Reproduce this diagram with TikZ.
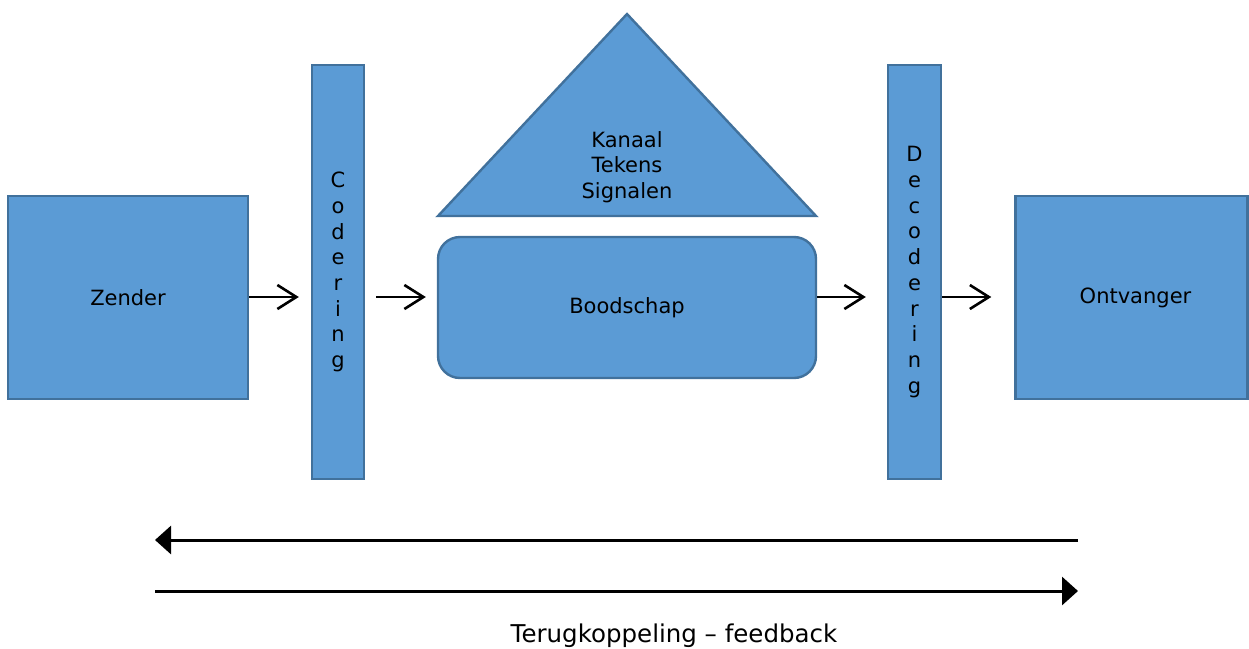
\documentclass[tikz,border=0pt]{standalone}
\usepackage{fontspec}
\setmainfont{DejaVu Sans}
\usetikzlibrary{arrows.meta}
\definecolor{boxfill}{HTML}{5B9BD5}
\definecolor{boxline}{HTML}{41719C}
\begin{document}
\begin{tikzpicture}[x=1pt,y=-1pt,
  blk/.style={draw=boxline,fill=boxfill,line width=2.4pt,inner sep=0pt,
    font=\fontsize{21}{25.7}\selectfont,align=center},
  flow/.style={line width=2.6pt,-{Straight Barb[length=19pt,width=24pt,line width=2.6pt]}},
  fb/.style={line width=3pt,-{Triangle[length=16pt,width=28pt]}},
  lbl/.style={font=\fontsize{21}{25.7}\selectfont,align=center,inner sep=0pt}]
\useasboundingbox (0,0) rectangle (1249,648);
\node[blk,minimum width=240pt,minimum height=203pt] (Zender) at (128,297.5) {Zender};
\node[blk,minimum width=52pt,minimum height=414pt] (Codering) at (338,272) {C\\o\\d\\e\\r\\i\\n\\g};
\node[blk,rounded corners=22pt,minimum width=378pt,minimum height=141pt] (Boodschap) at (627,307.5) {Boodschap};
\node[blk,minimum width=53pt,minimum height=414pt] (Decodering) at (914.5,272) {D\\e\\c\\o\\d\\e\\r\\i\\n\\g};
\node[blk,minimum width=232pt,minimum height=203pt,text width=232pt] (Ontvanger) at (1131.5,297.5) {\hspace*{8pt}Ontvanger};
\draw[draw=boxline,fill=boxfill,line width=2.4pt,line join=miter] (627,14) -- (816,216) -- (438,216) -- cycle;
\node[lbl] (Kanaal) at (627,167) {Kanaal\\Tekens\\Signalen};
\coordinate (y0) at (0,297);
\draw[flow,shorten >=12pt] (Zender.east |- y0) -- (Codering.west |- y0);
\draw[flow,shorten <=11pt,shorten >=11pt] (Codering.east |- y0) -- (Boodschap.west |- y0);
\draw[flow,shorten >=21pt] (Boodschap.east |- y0) -- (Decodering.west |- y0);
\draw[flow,shorten >=23pt] (Decodering.east |- y0) -- (Ontvanger.west |- y0);
\coordinate (fbL1) at (155,540);
\coordinate (fbR1) at (1078,540);
\coordinate (fbL2) at (155,591);
\coordinate (fbR2) at (1078,591);
\draw[fb] (fbR1) -- (fbL1);
\draw[fb] (fbL2) -- (fbR2);
\node[lbl,font=\fontsize{24.5}{28}\selectfont] (Feedback) at (674,636) {Terugkoppeling – feedback};
\end{tikzpicture}
\end{document}
